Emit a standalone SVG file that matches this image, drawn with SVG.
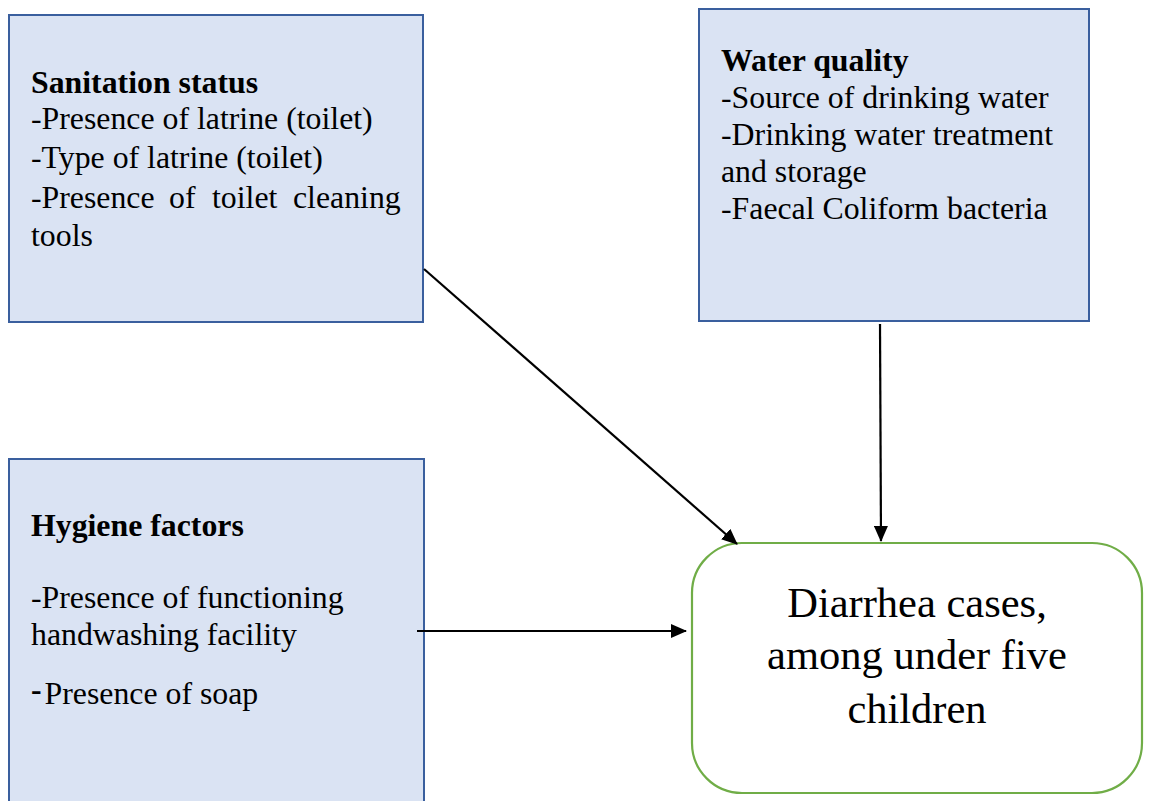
<svg xmlns="http://www.w3.org/2000/svg" width="1151" height="801" viewBox="0 0 1151 801">
<defs>
<style>
.box{fill:#DAE3F3;stroke:#3A5F9E;stroke-width:2}
.out{fill:#FFFFFF;stroke:#70AD47;stroke-width:2.2}
.t{font-family:"Liberation Serif","Times New Roman",serif;font-size:31.8px;fill:#000}
.b{font-weight:bold}
.c{font-family:"Liberation Serif","Times New Roman",serif;font-size:42.5px;fill:#000;text-anchor:middle}
</style>
<marker id="arr2" markerWidth="16" markerHeight="14" refX="15" refY="7" orient="auto" markerUnits="userSpaceOnUse" viewBox="0 0 16 14">
<path d="M0,0 L16,7 L0,14 z" fill="#000"/>
</marker>
</defs>
<rect width="1151" height="801" fill="#FFFFFF"/>
<g id="sanitation">
<rect class="box" x="9" y="15" width="414" height="307"/>
<text class="t b" x="31" y="93">Sanitation status</text>
<text class="t" x="31" y="129">-Presence of latrine (toilet)</text>
<text class="t" x="31" y="168">-Type of latrine (toilet)</text>
<text class="t"><tspan x="31" y="208">-Presence</tspan><tspan x="169" y="208">of</tspan><tspan x="212" y="208">toilet</tspan><tspan x="293" y="208">cleaning</tspan></text>
<text class="t" x="31" y="246">tools</text>
</g>
<g id="water">
<rect class="box" x="699" y="9" width="390" height="312"/>
<text class="t b" x="721" y="71">Water quality</text>
<text class="t" x="721" y="108">-Source of drinking water</text>
<text class="t" x="721" y="145">-Drinking water treatment</text>
<text class="t" x="721" y="182">and storage</text>
<text class="t" x="721" y="219">-Faecal Coliform bacteria</text>
</g>
<g id="hygiene">
<rect class="box" x="9" y="459" width="415" height="360"/>
<text class="t b" x="31" y="536">Hygiene factors</text>
<text class="t" x="31" y="608">-Presence of functioning</text>
<text class="t" x="31" y="645">handwashing facility</text>
<text class="t" x="31" y="704"><tspan font-weight="bold" dy="-4">-</tspan><tspan dy="4" dx="3">Presence of soap</tspan></text>
</g>
<g id="diarrhea">
<rect class="out" x="692" y="543" width="450" height="250" rx="50" ry="50"/>
<text class="c" x="917" y="617">Diarrhea cases,</text>
<text class="c" x="917" y="669">among under five</text>
<text class="c" x="917" y="723">children</text>
</g>
<g id="connectors">
<line x1="424" y1="269" x2="737" y2="544" stroke="#000" stroke-width="2.2" marker-end="url(#arr2)"/>
<line x1="880" y1="324" x2="881" y2="541" stroke="#000" stroke-width="2.2" marker-end="url(#arr2)"/>
<line x1="417" y1="631" x2="686" y2="631" stroke="#000" stroke-width="2.2" marker-end="url(#arr2)"/>
</g>
</svg>
